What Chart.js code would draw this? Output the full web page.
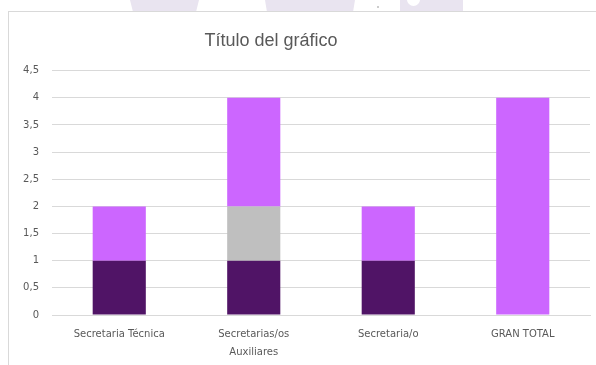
<!DOCTYPE html>
<html>
<head>
<meta charset="utf-8">
<script src="https://cdn.jsdelivr.net/npm/chart.js@4"></script>
<style>
  html, body { margin: 0; padding: 0; background: #fff; }
  #wrap { position: relative; width: 596px; height: 365px; overflow: hidden; }
  .mark { position: absolute; top: 0; height: 11px; background: #e9e4f0; }
  #frame { position: absolute; left: 8px; top: 11px; width: 700px; height: 500px; border: 1px solid #d9d9d9; box-sizing: border-box; }
  canvas { position: absolute; left: 0; top: 0; }
</style>
</head>
<body>
<div id="wrap">
  <div class="mark" style="left:130px;width:69px;clip-path:polygon(0 0,100% 0,96% 100%,4% 100%)"></div>
  <div class="mark" style="left:265px;width:90px;clip-path:polygon(0 0,100% 0,98% 100%,2% 100%)"></div>
  <div class="mark" style="left:400px;width:63px"></div>
  <div style="position:absolute;left:407px;top:-7px;width:13px;height:13px;border-radius:50%;background:#fff"></div>
  <div style="position:absolute;left:377px;top:6px;width:2px;height:2px;background:#ccc"></div>
  <div id="frame"></div>
  <canvas id="myChart" width="596" height="365"></canvas>
</div>
<script>
const ctx = document.getElementById("myChart");

let xValues = [["Secretaria Técnica"], ["Secretarias/os", "Auxiliares"], ["Secretaria/o"], ["GRAN TOTAL"]];
let serieOscuro = [1, 1, 1, 0];
let serieGris = [0, 1, 0, 0];
let serieClaro = [1, 2, 1, 4];
let barColors = ["#501466", "#bfbfbf", "#cc66ff"];
let yTicks = [0, 0.5, 1, 1.5, 2, 2.5, 3, 3.5, 4, 4.5];

const txtColor = "#595959";

// centra el titulo sobre el marco y no sobre el canvas
const tituloMarco = {
    id: "tituloMarco",
    afterLayout(chart) {
        const t = chart.titleBlock;
        t.left = 8;
        t.right = 534;
        t.width = t.right - t.left;
    }
};

const myChart = new Chart(ctx, {
    type: "bar",
    data: {
        labels: xValues,
        datasets: [
            { data: serieOscuro, backgroundColor: barColors[0] },
            { data: serieGris, backgroundColor: barColors[1] },
            { data: serieClaro, backgroundColor: barColors[2] }
        ]
    },
    options: {
        responsive: false,
        animation: false,
        layout: { padding: { left: 0, right: 6, top: 0, bottom: 0 } },
        datasets: { bar: { barPercentage: 0.395, categoryPercentage: 1 } },
        plugins: {
            legend: { display: false },
            tooltip: { enabled: false },
            title: {
                display: true,
                text: "Título del gráfico",
                color: txtColor,
                font: { family: "Liberation Sans", size: 18, weight: "normal" },
                padding: { top: 30, bottom: 19 }
            }
        },
        scales: {
            x: {
                stacked: true,
                grid: { display: false, drawTicks: false },
                border: { display: true, color: "#d9d9d9" },
                ticks: {
                    color: txtColor,
                    padding: 10,
                    maxRotation: 0,
                    font: { family: "DejaVu Sans", size: 10, lineHeight: 1.8 }
                },
                afterFit: s => { s.height = 50; }
            },
            y: {
                stacked: true,
                min: 0,
                max: 4.5,
                afterBuildTicks: s => { s.ticks = yTicks.map(v => ({ value: v })); },
                grid: { color: "#d9d9d9", drawTicks: false },
                border: { display: false },
                ticks: {
                    color: txtColor,
                    padding: 13,
                    font: { family: "DejaVu Sans", size: 10 },
                    callback: v => String(v).replace(".", ",")
                },
                afterFit: s => { s.width = 52; }
            }
        }
    },
    plugins: [tituloMarco]
});
</script>
</body>
</html>
